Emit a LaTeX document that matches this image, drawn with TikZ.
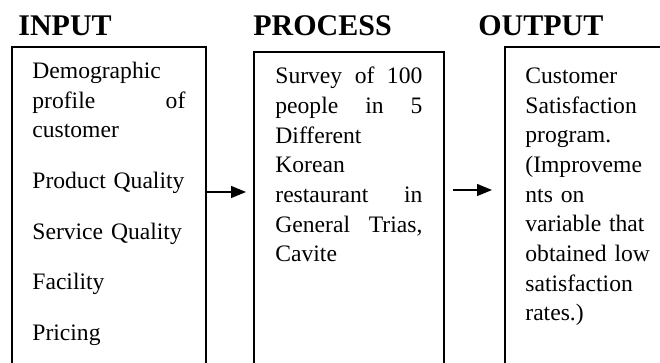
\documentclass[tikz,border=0pt]{standalone}
\usepackage{fontspec}
\setmainfont{Liberation Serif}
\usepackage{tikz}
\usetikzlibrary{arrows.meta, positioning}
\newcommand{\jline}[2][\hsize]{\makebox[#1][s]{\spaceskip=0pt\xspaceskip=0pt #2}}

\begin{document}
\begin{tikzpicture}[
    x=0.5pt, y=-0.5pt,
    panel/.style={draw, line width=0.85pt, outer sep=0pt, inner sep=0pt, minimum height=200pt, anchor=north west},
    heading/.style={inner sep=0pt, anchor=base west, font=\fontsize{15}{18}\selectfont\bfseries},
    body/.style={inner sep=0pt, anchor=north west, align=left, font=\fontsize{11.8}{14.85}\selectfont},
    flow/.style={-{Triangle[length=7.5pt, width=6pt]}, line width=0.65pt}
]
    \useasboundingbox (0,0) rectangle (660,363);
    \clip (0,0) rectangle (660,363);

    \node[panel, minimum width=97pt] (inbox) at (12,47) {};
    \node[panel, minimum width=95pt] (procbox) at (254,52) {};
    \node[panel, minimum width=125pt] (outbox) at (505,47) {};

    \node[heading] (intitle) at (18,36) {INPUT};
    \node[heading] (proctitle) at (253,36) {PROCESS};
    \node[heading] (outtitle) at (478,36) {OUTPUT};

    \node[body, text width=76.5pt] (intext) at (32,57.2) {\strut Demographic\\
        \jline{profile of}\\
        customer\\[10.5pt]
        Product Quality\\[10.5pt]
        Service Quality\\[10.5pt]
        Facility\\[10.5pt]
        Pricing};
    \node[body, text width=73.5pt] (proctext) at (275,62.5) {\strut\jline{Survey of 100}\\
        \jline{people in 5}\\
        Different\\
        Korean\\
        \jline{restaurant in}\\
        \jline{General Trias,}\\
        Cavite};
    \node[body, text width=66pt] (outtext) at (525,62.2) {\strut Customer\\
        Satisfaction\\
        program.\\
        (Improveme\\
        nts on\\
        \jline[59.5pt]{variable that}\\
        obtained low\\
        satisfaction\\
        rates.)};

    \draw[flow, shorten >=4pt] ([yshift=-72.5pt]inbox.north east) -- ([yshift=-70pt]procbox.north west);
    \draw[flow, shorten <=4.5pt, shorten >=6.5pt] ([yshift=-69pt]procbox.north east) -- ([yshift=-71.5pt]outbox.north west);
\end{tikzpicture}
\end{document}
